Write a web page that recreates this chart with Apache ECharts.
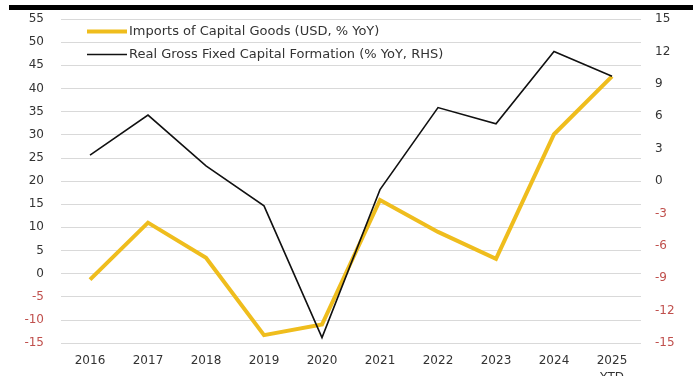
<!DOCTYPE html>
<html>
<head>
<meta charset="utf-8">
<style>
  html, body { margin: 0; padding: 0; background: #ffffff; }
  #chart { width: 699px; height: 376px; }
</style>
<script src="https://cdn.jsdelivr.net/npm/echarts@6/dist/echarts.min.js"></script>
</head>
<body>
<div id="chart"></div>
<script>
// Years on the category axis (last one is year-to-date)
const years = ['2016', '2017', '2018', '2019', '2020', '2021', '2022', '2023', '2024', '2025\nYTD'];

// Imports of capital goods, USD, % YoY (left axis)
const capitalGoodsImports = [-1.3, 11.0, 3.4, -13.3, -11.0, 15.9, 9.0, 3.2, 30.1, 42.6];

// Real gross fixed capital formation, % YoY (right axis)
const realGfcf = [2.4, 6.1, 1.4, -2.3, -14.5, -0.8, 6.8, 5.3, 12.0, 9.7];

const seriesNames = [
  'Imports of Capital Goods (USD, % YoY)',
  'Real Gross Fixed Capital Formation (% YoY, RHS)'
];

const textColor = '#333333';
const negColor = '#c0504d';
const fontFamily = 'DejaVu Sans';
const goldColor = '#efbd1d';
const blackColor = '#111111';

function tickLabel(v) {
  return v < 0 ? '{neg|' + v + '}' : '{pos|' + v + '}';
}
const tickRich = {
  pos: { color: textColor, fontSize: 12, fontFamily: fontFamily },
  neg: { color: negColor, fontSize: 12, fontFamily: fontFamily }
};

const chart = echarts.init(document.getElementById('chart'), null, { renderer: 'canvas' });

chart.setOption({
  backgroundColor: '#ffffff',
  animation: false,
  textStyle: { fontFamily: fontFamily },
  graphic: [{
    type: 'rect',
    shape: { x: 9, y: 5, width: 684, height: 5 },
    style: { fill: '#000000' },
    silent: true
  }],
  grid: {
    left: 61, right: 58, top: 19, bottom: 33,
    containLabel: false,
    outerBoundsMode: 'none'
  },
  legend: {
    orient: 'vertical',
    left: 85,
    top: 25,
    padding: 0,
    itemWidth: 40,
    itemHeight: 13,
    itemGap: 10,
    itemStyle: { opacity: 0 },
    textStyle: { color: textColor, fontSize: 13, fontFamily: fontFamily, padding: [0, 0, 0, -3] },
    data: [
      { name: seriesNames[0], lineStyle: { color: goldColor, width: 4 } },
      { name: seriesNames[1], lineStyle: { color: blackColor, width: 1.6 } }
    ]
  },
  xAxis: {
    type: 'category',
    data: years,
    boundaryGap: true,
    axisLine: { show: false },
    axisTick: { show: false },
    axisLabel: {
      color: textColor, fontSize: 12, fontFamily: fontFamily,
      margin: 9, lineHeight: 17, interval: 0
    }
  },
  yAxis: [{
    type: 'value',
    min: -15, max: 55, interval: 5,
    axisLine: { show: false },
    axisTick: { show: false },
    splitLine: { lineStyle: { color: '#d9d9d9', width: 1 } },
    axisLabel: { margin: 17, formatter: tickLabel, rich: tickRich }
  }, {
    type: 'value',
    min: -15, max: 15, interval: 3,
    position: 'right',
    axisLine: { show: false },
    axisTick: { show: false },
    splitLine: { show: false },
    axisLabel: { margin: 14, formatter: tickLabel, rich: tickRich }
  }],
  series: [{
    name: seriesNames[0],
    type: 'line',
    yAxisIndex: 0,
    data: capitalGoodsImports,
    symbol: 'none',
    lineStyle: { color: goldColor, width: 4, join: 'miter' },
    itemStyle: { color: goldColor }
  }, {
    name: seriesNames[1],
    type: 'line',
    yAxisIndex: 1,
    data: realGfcf,
    symbol: 'none',
    lineStyle: { color: blackColor, width: 1.6, join: 'miter' },
    itemStyle: { color: blackColor }
  }]
});
</script>
</body>
</html>
